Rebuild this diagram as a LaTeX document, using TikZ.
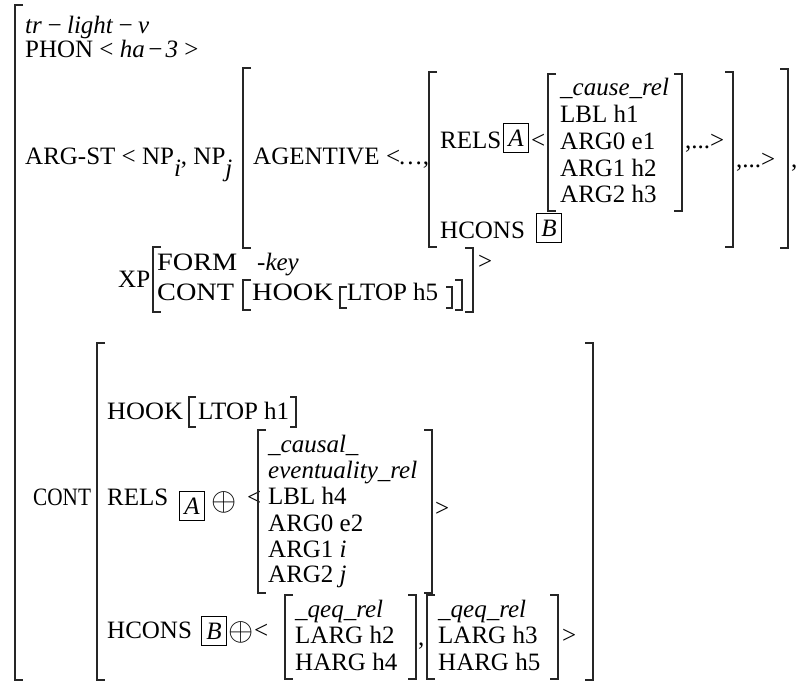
\documentclass[tikz,border=0pt]{standalone}
\usepackage{graphicx}
\usepackage{fontspec}
\setmainfont{Liberation Serif}
\newcommand{\wide}[1]{\scalebox{1.13}[1]{#1}}
\newcommand{\dsum}{\scalebox{1.3}{$\oplus$}}

\begin{document}
\begin{tikzpicture}[x=1pt,y=-1pt,
    txt/.style={inner sep=0pt, anchor=base west, font=\fontsize{25}{26}\selectfont},
    sym/.style={inner sep=0pt, anchor=center, font=\fontsize{25}{26}\selectfont},
    brak/.style={line width=1.3pt, black!85},
    tag/.style={draw, line width=0.9pt, inner sep=0pt, minimum width=25pt, minimum height=29pt, font=\fontsize{25}{26}\selectfont\itshape},
]
\useasboundingbox (0,0) rectangle (798,683);

% outer matrix
\draw[brak] (23,5) -| (15,680) -- ++(8,0);
\node[txt] (type) at (25,33) {\textit{tr\,−\,light\,−\,v}};
\node[txt] (phon) at (25,57) {PHON < \textit{ha\kern2pt−\kern2pt3} >};
\node[txt] (argst) at (25,164) {ARG-ST < NP\raisebox{-12pt}{\textit{i}}, NP\raisebox{-12pt}{\textit{j}}};

% agentive
\draw[brak] (251,68) -| (243,248) -- ++(8,0);
\draw[brak] (780,69) -| (788,248) -- ++(-8,0);
\node[txt] (agent) at (253,164) {AGENTIVE};
\node[txt] (lt0) at (386,164) {<};
\node[txt] (dots0) at (399,164) {.\kern2pt.\kern2pt.\kern1pt,};
\node[txt] (comma1) at (791,167) {,};

\draw[brak] (437,72) -| (429,247) -- ++(8,0);
\draw[brak] (725,72) -| (733,247) -- ++(-8,0);
\node[txt] (rels1) at (440,148) {RELS};
\node[tag] (a1) at (516,138) {A};
\node[txt] (lt1) at (531,148) {<};

\draw[brak] (556,74) -| (548,211) -- ++(8,0);
\draw[brak] (674,74) -| (682,211) -- ++(-8,0);
\node[txt] (crel) at (560,95) {\textit{\_cause\_rel}};
\node[txt] (lbl1) at (560,122) {LBL h1};
\node[txt] (arg01) at (560,149) {ARG0 e1};
\node[txt] (arg11) at (560,176) {ARG1 h2};
\node[txt] (arg21) at (560,202) {ARG2 h3};
\node[txt] (etc1) at (685,148) {,...>};
\node[txt] (etc2) at (736,167) {,...>};
\node[txt] (hcons1) at (440,238) {HCONS};
\node[tag] (b1) at (549,228) {B};

% XP
\node[txt] (xp) at (118,287) {XP};
\draw[brak] (161,247) -| (153,312) -- ++(8,0);
\draw[brak] (465,248) -| (473,312) -- ++(-8,0);
\node[txt] (form) at (157,270) {\wide{FORM}};
\node[txt] (key) at (257,270) {\textit{-key}};
\node[txt] (cont1) at (157,300) {\wide{CONT}};
\draw[brak] (251,280) -| (243,310) -- ++(8,0);
\draw[brak] (455,280) -| (462,310) -- ++(-7,0);
\node[txt] (hook1) at (252,300) {\wide{HOOK}};
\draw[brak] (347,287) -| (340,308) -- ++(7,0);
\draw[brak] (446,287) -| (452,308) -- ++(-6,0);
\node[txt] (ltop5) at (347,300) {LTOP h5};
\node[txt] (gt1) at (478,269) {>};

% CONT
\node[txt] (cont2) at (33,505) {\scalebox{0.85}[1]{CONT}};
\draw[brak] (105,343) -| (97,680) -- ++(8,0);
\draw[brak] (585,343) -| (593,680) -- ++(-8,0);
\node[txt] (hook2) at (107,419) {\scalebox{1.05}[1]{HOOK}};
\draw[brak] (196,397) -| (189,427) -- ++(7,0);
\draw[brak] (290,397) -| (296,427) -- ++(-6,0);
\node[txt] (ltop1) at (198,419) {LTOP h1};

\node[txt] (rels2) at (107,505) {RELS};
\node[tag] (a2) at (192,506) {A};
\node[sym] (oplus1) at (224,502) {\dsum};
\node[txt] (lt2) at (247,505) {<};
\draw[brak] (266,430) -| (258,593) -- ++(8,0);
\draw[brak] (424,430) -| (432,593) -- ++(-8,0);
\node[txt] (causal) at (268,452) {\textit{\_causal\_}};
\node[txt] (evrel) at (268,478) {\textit{eventuality\_rel}};
\node[txt] (lbl4) at (268,504) {LBL h4};
\node[txt] (arg02) at (268,531) {ARG0 e2};
\node[txt] (arg1i) at (268,557) {ARG1 \textit{i}};
\node[txt] (arg2j) at (268,582) {ARG2 \textit{j}};
\node[txt] (gt2) at (435,516) {>};

\node[txt] (hcons2) at (107,638) {HCONS};
\node[tag] (b2) at (214,631) {B};
\node[sym] (oplus2) at (241,632) {\dsum};
\node[txt] (lt3) at (254,638) {<};
\draw[brak] (293,595) -| (285,679) -- ++(8,0);
\draw[brak] (408,595) -| (416,679) -- ++(-8,0);
\node[txt] (qeq1) at (295,617) {\textit{\_qeq\_rel}};
\node[txt] (larg2) at (295,643) {LARG h2};
\node[txt] (harg4) at (295,670) {HARG h4};
\node[txt] (comma2) at (418,645) {,};
\draw[brak] (435,595) -| (427,679) -- ++(8,0);
\draw[brak] (550,595) -| (558,679) -- ++(-8,0);
\node[txt] (qeq2) at (438,617) {\textit{\_qeq\_rel}};
\node[txt] (larg3) at (438,643) {LARG h3};
\node[txt] (harg5) at (438,670) {HARG h5};
\node[txt] (gt3) at (562,643) {>};

\end{tikzpicture}
\end{document}
